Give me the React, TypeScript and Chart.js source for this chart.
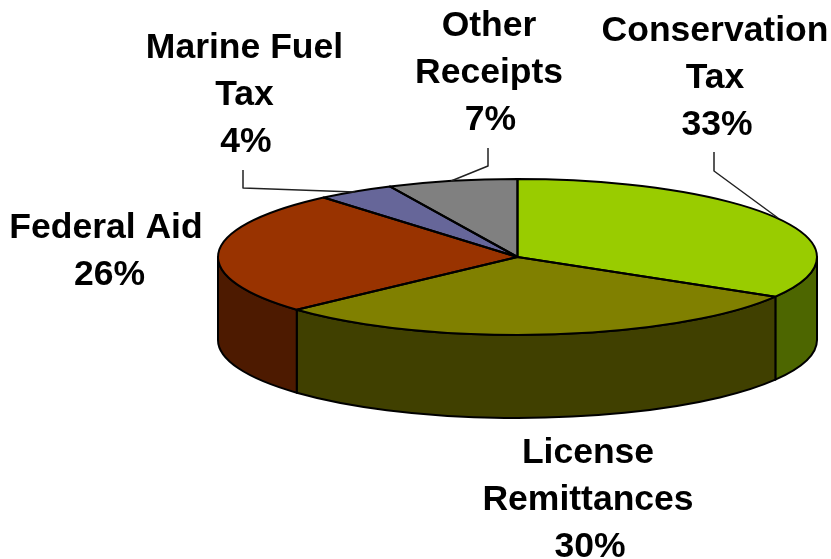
import React, { useEffect, useRef } from "react";
import { Chart, registerables } from "chart.js";

Chart.register(...registerables);

const categories = ["Conservation Tax", "License Remittances", "Federal Aid", "Marine Fuel Tax", "Other Receipts"];
const values = [33.49, 29.7, 25.6, 4.2, 7.01];
const topColors = ["#99CC00", "#808000", "#993300", "#666699", "#808080"];
const sideColors = ["#4D6600", "#404000", "#4D1A00", "#333366", "#404040"];
const labelLines = [["Conservation", "Tax"], ["License", "Remittances"], ["Federal Aid"], ["Marine Fuel", "Tax"], ["Other", "Receipts"]];
const labelAnchors = [[715, 41], [588, 463], [106, 238], [244.5, 58], [489, 36]];
const percentShift = [2, 2, 3.5, 1.5, 1.5];
const leaders: number[][][] = [
  [[714, 152], [714, 171], [778, 218]],
  [],
  [],
  [[243, 170], [243, 188], [355, 192]],
  [[488, 148], [488, 166], [451, 181]],
];

const CX = 517.5;
const CY = 257;
const RX = 299.5;
const RY = 78;
const DEPTH = 83;
const LINE_HEIGHT = 46.8;

const pie3d = {
  id: "pie3d",
  beforeDatasetsDraw(chart: any) {
    const ctx = chart.ctx;
    const arcs = chart.getDatasetMeta(0).data;
    ctx.save();
    ctx.lineWidth = 2;
    ctx.strokeStyle = "#000";
    ctx.lineJoin = "round";
    arcs.forEach((arc: any, i: number) => {
      const a = Math.max(arc.startAngle, 0);
      const b = Math.min(arc.endAngle, Math.PI);
      if (a >= b) return;
      ctx.beginPath();
      ctx.ellipse(CX, CY, RX, RY, 0, a, b);
      ctx.lineTo(CX + RX * Math.cos(b), CY + RY * Math.sin(b) + DEPTH);
      ctx.ellipse(CX, CY + DEPTH, RX, RY, 0, b, a, true);
      ctx.closePath();
      ctx.fillStyle = sideColors[i];
      ctx.fill();
      ctx.stroke();
    });
    ctx.restore();
    const arc = arcs[0];
    const r = arc.outerRadius;
    ctx.save();
    ctx.translate(CX, CY);
    ctx.scale(RX / r, RY / r);
    ctx.translate(-arc.x, -arc.y);
  },
  afterDatasetsDraw(chart: any) {
    const ctx = chart.ctx;
    ctx.restore();
    const arcs = chart.getDatasetMeta(0).data;
    ctx.save();
    ctx.lineWidth = 2;
    ctx.strokeStyle = "#000";
    ctx.lineJoin = "round";
    arcs.forEach((arc: any) => {
      ctx.beginPath();
      ctx.moveTo(CX, CY);
      ctx.ellipse(CX, CY, RX, RY, 0, arc.startAngle, arc.endAngle);
      ctx.closePath();
      ctx.stroke();
    });
    ctx.lineWidth = 1.5;
    ctx.strokeStyle = "#222";
    leaders.forEach((pts) => {
      if (!pts.length) return;
      ctx.beginPath();
      pts.forEach((p, k) => (k ? ctx.lineTo(p[0], p[1]) : ctx.moveTo(p[0], p[1])));
      ctx.stroke();
    });
    ctx.fillStyle = "#000";
    ctx.font = "bold 35.5px 'Liberation Sans', Arial, sans-serif";
    ctx.textAlign = "center";
    ctx.textBaseline = "alphabetic";
    const data = chart.data.datasets[0].data as number[];
    labelLines.forEach((lines, i) => {
      const [x, y] = labelAnchors[i];
      lines.forEach((t, k) => ctx.fillText(t, x, y + k * LINE_HEIGHT));
      ctx.fillText(`${Math.round(data[i])}%`, x + percentShift[i], y + lines.length * LINE_HEIGHT);
    });
    ctx.restore();
  },
};

export default function App() {
  const ref = useRef<HTMLCanvasElement | null>(null);
  useEffect(() => {
    document.body.style.margin = "0";
    document.body.style.background = "#fff";
    const chart = new Chart(ref.current as HTMLCanvasElement, {
      type: "pie",
      data: {
        labels: categories,
        datasets: [{ data: values, backgroundColor: topColors, borderWidth: 0, clip: false } as any],
      },
      options: {
        responsive: false,
        animation: false,
        maintainAspectRatio: false,
        plugins: { legend: { display: false }, tooltip: { enabled: false } },
      },
      plugins: [pie3d],
    });
    return () => chart.destroy();
  }, []);
  return <canvas ref={ref} width={831} height={559} style={{ display: "block" }} />;
}
